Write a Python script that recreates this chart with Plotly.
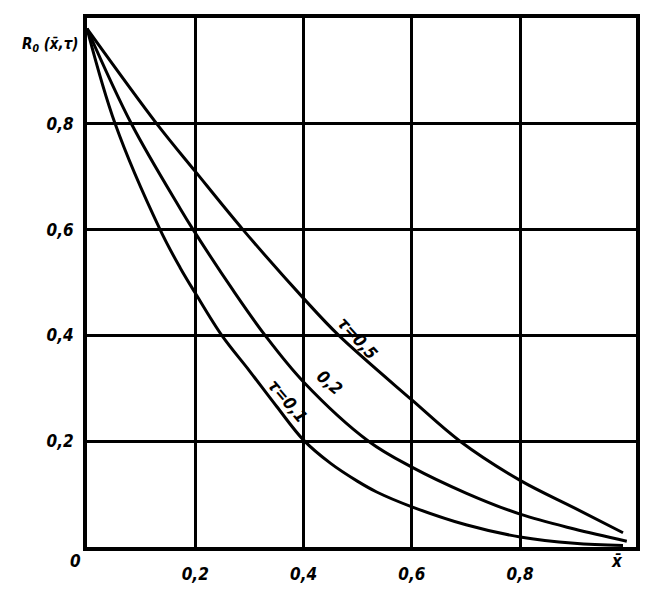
import plotly.graph_objects as go

# Curve data
x_t01 = [0, 0.052, 0.135, 0.172, 0.2, 0.249, 0.3, 0.35, 0.4, 0.45, 0.5, 0.535, 0.6, 0.7, 0.8, 0.9, 0.99]
y_t01 = [0.98, 0.8, 0.6, 0.528, 0.48, 0.4, 0.333, 0.266, 0.202, 0.158, 0.124, 0.104, 0.076, 0.042, 0.019, 0.007, 0.003]

x_t02 = [0, 0.082, 0.172, 0.196, 0.27, 0.329, 0.4, 0.52, 0.6, 0.7, 0.8, 0.9, 0.997]
y_t02 = [0.98, 0.8, 0.64, 0.6, 0.485, 0.4, 0.312, 0.2, 0.151, 0.102, 0.062, 0.034, 0.011]

x_t05 = [0, 0.129, 0.2, 0.288, 0.4, 0.465, 0.6, 0.689, 0.8, 0.9, 0.99]
y_t05 = [0.98, 0.8, 0.71, 0.6, 0.47, 0.4, 0.278, 0.2, 0.126, 0.074, 0.027]

x_tickvals = [0.2, 0.4, 0.6, 0.8]
x_ticktext = ["0,2", "0,4", "0,6", "0,8"]
y_tickvals = [0.2, 0.4, 0.6, 0.8]
y_ticktext = ["0,2", "0,4", "0,6", "0,8"]

curve_labels = ["τ=0,1", "0,2", "τ=0,5"]
label_x = [0.371, 0.447, 0.50]
label_y = [0.276, 0.311, 0.395]
label_angle = [50, 40, 48]

X_MAX = 1.014
FONT = "DejaVu Sans Condensed, DejaVu Sans, sans-serif"
bold_it = lambda s: dict(family=FONT, size=s, color="black", weight="bold", style="italic")

fig = go.Figure()
for xs, ys in [(x_t01, y_t01), (x_t02, y_t02), (x_t05, y_t05)]:
    fig.add_trace(go.Scatter(x=xs, y=ys, mode="lines",
                             line=dict(color="black", width=3, shape="spline", smoothing=1.0),
                             showlegend=False, hoverinfo="skip"))

for t, lx, ly, ang in zip(curve_labels, label_x, label_y, label_angle):
    fig.add_annotation(x=lx, y=ly, xref="x", yref="y", text=t, showarrow=False,
                       textangle=ang, font=bold_it(17))

# labels outside the plot area (paper coordinates)
fig.add_annotation(x=-0.012, y=0.972, xref="paper", yref="paper", xanchor="right",
                   text="R<sub>0</sub> (x̄,τ)", showarrow=False, font=bold_it(15))
fig.add_annotation(x=-0.035, y=-0.05, xref="paper", yref="paper", text="0",
                   showarrow=False, font=bold_it(17))
fig.add_annotation(x=0.98, y=-0.05, xref="paper", yref="paper", text="x̄",
                   showarrow=False, font=bold_it(17))

fig.update_xaxes(range=[0, X_MAX], tickvals=x_tickvals, ticktext=x_ticktext,
                 showgrid=True, gridcolor="black", gridwidth=3, zeroline=False,
                 showline=True, linecolor="black", linewidth=4, mirror=True,
                 ticks="", ticklabelstandoff=9, tickfont=bold_it(17), automargin=False)
fig.update_yaxes(range=[0, 1.0], tickvals=y_tickvals, ticktext=y_ticktext,
                 showgrid=True, gridcolor="black", gridwidth=3, zeroline=False,
                 showline=True, linecolor="black", linewidth=4, mirror=True,
                 ticks="", ticklabelstandoff=6, tickfont=bold_it(17), automargin=False)

# page body has an 8px margin, so the figure is 16px smaller than the window
fig.update_layout(width=641, height=576, margin=dict(l=79, r=13, t=10, b=37),
                  plot_bgcolor="white", paper_bgcolor="white")

fig.write_html("out.html")
